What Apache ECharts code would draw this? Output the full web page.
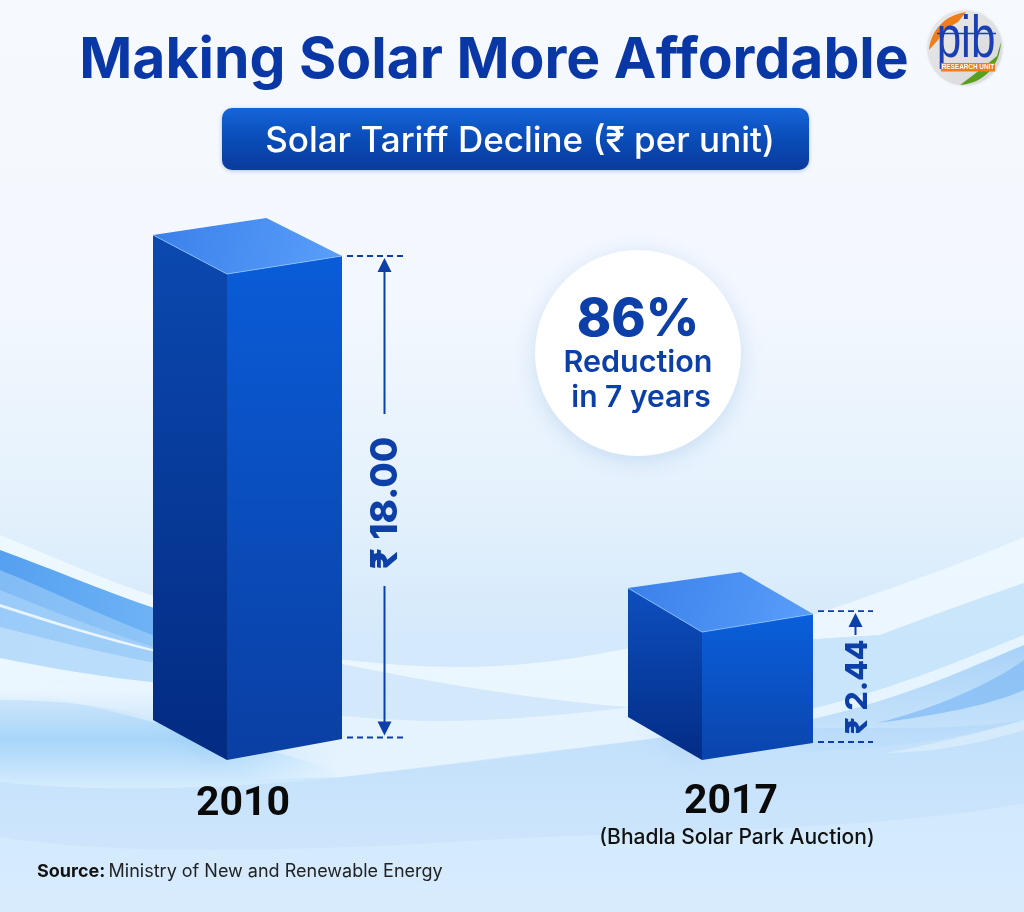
<!DOCTYPE html>
<html><head><meta charset="utf-8">
<style>html,body{margin:0;padding:0;background:#fff}#c{width:1024px;height:912px}</style>
<script src="https://cdn.jsdelivr.net/npm/echarts@6/dist/echarts.min.js"></script>
</head><body><div id="c"></div>
<script>
const categories = ['2010', '2017'];
const subLabels = ['', '(Bhadla Solar Park Auction)'];
const tariffs = [18.00, 2.44];
const valueLabels = ['₹ 18.00', '₹ 2.44'];
const titleText = 'Making Solar More Affordable';
const subtitleText = 'Solar Tariff Decline (₹ per unit)';
const calloutLines = ['86%', 'Reduction', 'in 7 years'];

const FONT = 'Inter, "Noto Sans", sans-serif';
const BLUE = '#0c3fa8';
const TITLE_BLUE = '#0a37a6';
const AXIS_MIN = 1.195;   // the picture's bars are not linear: a log axis reproduces their heights

const LG = echarts.graphic.LinearGradient;
const stops = (...c) => c.map((col,i)=>({offset:i/(c.length-1),color:col}));
const lg = (x0,y0,x1,y1,...c) => new LG(x0,y0,x1,y1,stops(...c));
const vg = (...c) => lg(0,0,0,1,...c);

const shapes = [
 { l:-94.5, f:-20.5, r:94.5, leftTop:39, leftBot:40, backDy:56, backF:.6, rightTop:18, rightBot:21, dashR:61, labelSize:37, labelX:44, labelY:.513,
   leftFill:vg('#0b49b0','#032b82'), frontFill:vg('#0a5cd8','#0a3fa3'), dashDy:[0,-1.5] },
 { l:-92.5, f:-18.5, r:92.5, leftTop:44, leftBot:43, backDy:60, backF:.61, rightTop:18, rightBot:17, dashR:60, labelSize:30, labelX:45, labelY:.58,
   leftFill:vg('#0d4fbf','#032c85'), frontFill:vg('#0a5fdc','#0a44ab'), dashDy:[-3,-1] }
];

function renderBar(params, api) {
  const i = params.dataIndex;
  const s = shapes[i];
  const top = api.coord([api.value(0), api.value(1)]);
  const base = api.coord([api.value(0), AXIS_MIN]);
  const cx = top[0], T = top[1], B = base[1];
  const X = d => cx + d;
  const L=X(s.l), F=X(s.f), R=X(s.r);
  const rT=T-s.rightTop, rB=B-s.rightBot, lT=T-s.leftTop, lB=B-s.leftBot, bY=T-s.backDy;
  const backX = L + (R-L)*s.backF;
  const kids = [];
  kids.push({type:'polygon',shape:{points:[[L+8,lB-8],[F,B-6],[F,B-14]]},style:{fill:'rgba(70,140,215,.5)',shadowBlur:24,shadowColor:'rgba(60,130,210,.8)',shadowOffsetX:-6,shadowOffsetY:4}});
  kids.push({type:'polygon',shape:{points:[[L,lT],[F,T],[F,B],[L,lB]]},style:{fill:s.leftFill}});
  kids.push({type:'polygon',shape:{points:[[F,T],[R,rT],[R,rB],[F,B]]},style:{fill:s.frontFill}});
  kids.push({type:'polygon',shape:{points:[[L,lT],[backX,bY],[R,rT],[F,T]]},style:{fill:lg(0,0,1,1,'#3a80ea','#5a9ffa')}});
  kids.push({type:'polyline',shape:{points:[[L,lT],[F,T],[R,rT]]},style:{stroke:'rgba(150,200,255,.7)',fill:null,lineWidth:1}});
  const dT=rT+s.dashDy[0], dB=rB+s.dashDy[1], ax=R+42.5, d0=R+5, d1=R+s.dashR;
  const dash = y => ({type:'line',shape:{x1:d0,y1:y,x2:d1,y2:y},style:{stroke:BLUE,lineWidth:1.8,lineDash:[6,4]}});
  kids.push(dash(dT),dash(dB));
  const head = (tip,dir) => ({type:'polygon',shape:{points:[[ax,tip],[ax-7,tip+dir*14],[ax+7,tip+dir*14]]},style:{fill:BLUE}});
  const seg = (a,b) => ({type:'line',shape:{x1:ax,y1:a,x2:ax,y2:b},style:{stroke:BLUE,lineWidth:2}});
  kids.push(head(dT+2,1));
  if (i===0){
    kids.push(seg(dT+14,414),seg(586,dB-14),head(dB-2,-1));
  } else {
    kids.push(seg(dT+14,635));
  }
  kids.push({type:'text',x:R+s.labelX,y:dT+(dB-dT)*s.labelY,rotation:Math.PI/2,
    style:{text:valueLabels[i],fill:BLUE,font:'800 '+s.labelSize+'px '+FONT,align:'center',verticalAlign:'middle'}});
  return {type:'group',children:kids};
}

const wavePaths = [
 ['M0,782 C90,792 220,790 342,777 C480,762 600,745 702,733 C820,722 930,735 1024,720 L1024,912 L0,912 Z',vg('#c2e0fb','#d2e8fc')],
 ['M0,837 C120,856 300,852 520,838 C700,830 880,830 1024,803 L1024,912 L0,912 Z','rgba(222,240,254,.45)'],
 ['M0,690 C50,695 120,712 200,735 C270,750 320,762 342,777 C220,790 90,792 0,782 Z',vg('rgba(168,214,249,0)','rgba(168,214,249,1)','rgba(214,236,253,1)')],
 ['M0,535 C60,560 110,582 160,598 L160,610 C100,590 50,568 0,550 Z','rgba(238,248,255,.95)'],
 ['M0,550 C50,568 100,590 160,610 L160,690 L0,680 Z',lg(0,0,1,0,'#55a0f0','#6eb3f5')],
 ['M0,570 C50,590 100,615 160,638 L160,690 L0,680 Z','rgba(175,215,250,.5)'],
 ['M0,590 C50,610 100,630 160,649 L160,690 L0,680 Z','rgba(175,215,250,.55)'],
 ['M0,627 C50,640 100,652 160,664 L160,700 L0,680 Z','rgba(205,231,253,.6)'],
 ['M0,604 C50,620 100,636 160,651 L160,653 C100,639 50,623 0,607 Z','rgba(240,248,255,.9)'],
 ['M0,658 C50,668 100,677 160,683 L160,720 C110,705 50,700 0,700 Z',vg('rgba(236,247,255,1)','rgba(236,247,255,.95)','rgba(236,247,255,0)')],
 ['M230,650 C300,652 380,668 470,667 C530,666 580,658 640,646 L640,708 C560,702 470,690 342,664 L230,660 Z','rgba(240,249,255,.8)'],
 ['M240,700 C300,712 350,718 401,720 C470,724 560,716 640,706 L702,732 C600,745 480,760 342,777 L240,780 Z',
   new LG(0,0,1,0,[{offset:0,color:'rgba(236,247,255,0)'},{offset:.22,color:'rgba(236,247,255,.75)'},{offset:1,color:'rgba(236,247,255,.75)'}])],
 ['M790,622 C860,600 960,565 1024,537 L1024,583 C960,605 920,620 880,635 L800,640 Z','rgba(238,248,255,.85)'],
 ['M800,640 L880,635 C920,620 960,605 1024,583 L1024,635 C950,665 890,690 800,712 Z','rgba(192,225,251,.55)'],
 ['M800,712 C890,690 950,665 1024,635 L1024,645 C950,675 900,700 800,722 Z','rgba(232,245,255,.9)'],
 ['M800,722 C900,700 960,672 1024,645 L1024,722 C960,738 900,748 800,752 Z',vg('rgba(130,190,245,.55)','rgba(175,215,250,.25)')],
 ['M1024,660 C990,685 930,710 877,723 C940,715 990,705 1024,690 Z','rgba(125,185,245,.7)'],
 ['M1024,720 C970,735 930,745 886,753 C940,752 985,742 1024,730 Z','rgba(225,241,254,.6)']
];
const logoPaths = [
 ['M929,50 C931,30 945,15 966,12 L958,22 L944,30 L938,40 Z','#ef7d1a'],
 ['M1001,42 C1000,65 985,83 960,85 L972,76 L985,66 L997,56 Z','#5a9e1e']
];
const pathsItem = list => () => ({type:'group',children:list.map(p=>({type:'path',shape:{pathData:p[0]},style:{fill:p[1]}}))});

const overlay = [
 {type:'rect',z:1,shape:{x:222,y:108,width:587,height:62,r:10},style:{fill:vg('#1565d8','#0a4cb8','#0a3a9c'),shadowBlur:4,shadowColor:'rgba(20,60,140,.3)',shadowOffsetY:1}},
 {type:'text',z:2,x:520,y:141,style:{text:subtitleText,fill:'#fff',font:'500 35px '+FONT,align:'center',verticalAlign:'middle'}},
 {type:'circle',z:1,shape:{cx:638,cy:353,r:103},style:{fill:'#fff',shadowBlur:22,shadowColor:'rgba(70,130,210,.22)',shadowOffsetY:4}},
 {type:'text',z:2,x:638,y:320,style:{text:calloutLines[0],fill:BLUE,font:'800 52px '+FONT,align:'center',verticalAlign:'middle'}},
 {type:'text',z:2,x:638,y:363,style:{text:calloutLines[1],fill:BLUE,font:'600 30.5px '+FONT,align:'center',verticalAlign:'middle'}},
 {type:'text',z:2,x:641,y:398,style:{text:calloutLines[2],fill:BLUE,font:'600 30px '+FONT,align:'center',verticalAlign:'middle'}},
 {type:'text',z:2,x:37,y:872,style:{text:'{b|Source:} {n|Ministry of New and Renewable Energy}',verticalAlign:'middle',rich:{b:{font:'700 18px '+FONT,fill:'#111'},n:{font:'400 18px '+FONT,fill:'#222'}}}},
 {type:'circle',z:1,shape:{cx:965,cy:48,r:37},style:{fill:lg(0,0,1,1,'#e9e9e9','#d8d8d8'),shadowBlur:3,shadowColor:'rgba(0,0,0,.2)'}}
];
const logoTop = [
 {type:'text',x:966,y:70,scaleY:1.35,style:{text:'pib',fill:'#1a3fb5',font:'400 44px "Liberation Sans", sans-serif',align:'center',verticalAlign:'bottom'}},
 {type:'line',shape:{x1:937,y1:33.5,x2:996,y2:33.5},style:{stroke:'#1a3fb5',lineWidth:1.6}},
 {type:'rect',shape:{x:941,y:63,width:54,height:8.5},style:{fill:'#ef7d1a'}},
 {type:'text',x:968,y:67.5,style:{text:'RESEARCH UNIT',fill:'#fff',font:'700 6.4px "Liberation Sans", sans-serif',align:'center',verticalAlign:'middle'}}
];

const chart = echarts.init(document.getElementById('c'), null, {renderer:'canvas'});
chart.setOption({
  animation:false,
  backgroundColor:new LG(0,0,0,1,[{offset:0,color:'#f6f9fe'},{offset:.33,color:'#f3f8fe'},{offset:.55,color:'#e4f1fc'},{offset:.7,color:'#d4e9fb'},{offset:1,color:'#d0e7fc'}]),
  title:{text:titleText,left:489,top:27,textAlign:'center',textStyle:{color:TITLE_BLUE,fontFamily:FONT,fontWeight:700,fontSize:57}},
  grid:{left:11,right:67,top:274,bottom:152},
  graphic:{elements:overlay},
  xAxis:{type:'category',data:categories,axisLine:{show:false},axisTick:{show:false},
    axisLabel:{margin:22.5,interval:0,color:'#0a0a0a',fontFamily:'Roboto',
      formatter:(v,idx)=> idx===0 ? '{a|'+v+'}' : '{b|'+v+'}\n{c|'+subLabels[idx]+'}',
      rich:{
        a:{fontSize:41,fontWeight:700,fontFamily:'Roboto',color:'#0a0a0a',lineHeight:44,padding:[0,9,0,0]},
        b:{fontSize:41,fontWeight:700,fontFamily:'Roboto',color:'#0a0a0a',lineHeight:40,padding:[0,0,0,21]},
        c:{fontSize:21,fontWeight:500,fontFamily:FONT,color:'#111',lineHeight:30,padding:[0,0,0,33]}
      }}},
  yAxis:{type:'log',min:AXIS_MIN,max:18,show:false,splitLine:{show:false}},
  series:[
    {type:'custom',coordinateSystem:'none',silent:true,z:0,renderItem:pathsItem(wavePaths),data:[0]},
    {type:'custom',coordinateSystem:'cartesian2d',z:3,renderItem:renderBar,encode:{x:0,y:1},
      data:tariffs.map((v,i)=>[categories[i],v])},
    {type:'custom',coordinateSystem:'none',silent:true,z:6,renderItem:()=>({type:'group',children:pathsItem(logoPaths)().children.concat(logoTop)}),data:[0]}
  ]
});
</script></body></html>
